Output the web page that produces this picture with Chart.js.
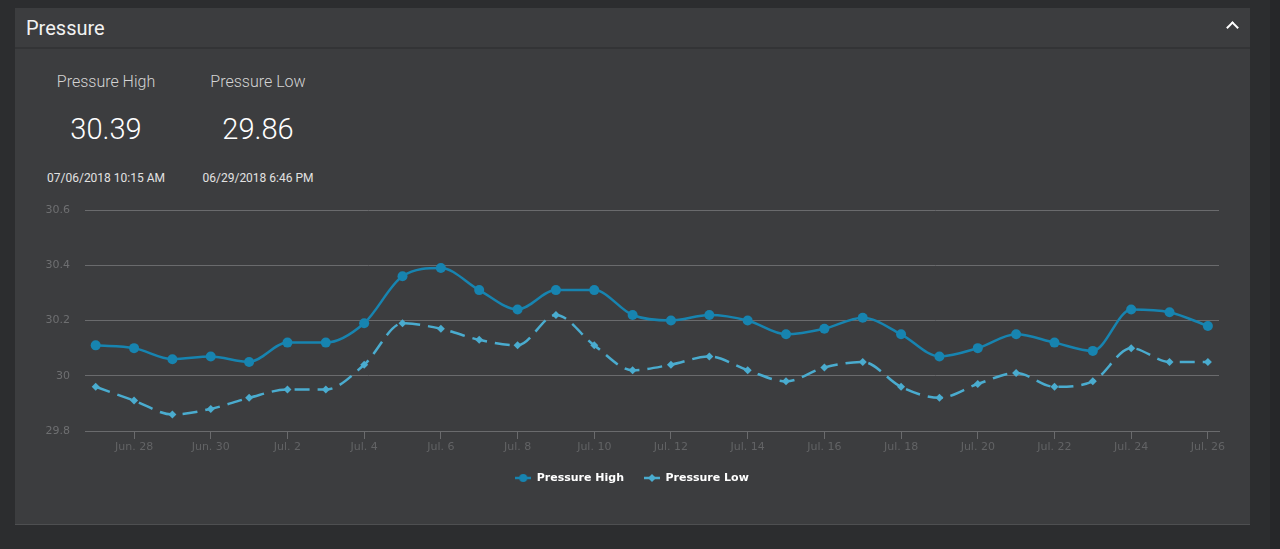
<!DOCTYPE html>
<html>
<head>
<meta charset="utf-8">
<script src="https://cdn.jsdelivr.net/npm/chart.js@4/dist/chart.umd.min.js"></script>
<style>
  html, body { margin: 0; padding: 0; }
  body { width: 1280px; height: 549px; background: #2c2d2f; position: relative; overflow: hidden; font-family: Roboto, "Noto Sans", sans-serif; }
  .strip { position: absolute; left: 1270px; top: 0; width: 10px; height: 549px; background: #262729; }
  .panel { position: absolute; left: 15px; top: 8px; width: 1235px; height: 517px; background: #3c3d3f; border-bottom: 1px solid #4e4f51; box-sizing: border-box; }
  .header { position: absolute; left: 0; top: 0; width: 100%; height: 39px; border-bottom: 2px solid #333436; box-sizing: content-box; }
  .title { position: absolute; left: 11px; top: 8px; font-size: 20px; color: #f2f2f2; font-weight: 400; }
  .chev { position: absolute; left: 1213px; top: 15px; width: 7px; height: 7px; border-left: 2px solid #fff; border-top: 2px solid #fff; transform: rotate(45deg); }
  .stat { position: absolute; text-align: center; width: 160px; }
  .stat .lbl { position: absolute; left: 0; width: 160px; top: 0; font-size: 16px; color: #d4d4d4; font-weight: 300; }
  .stat .val { position: absolute; left: 0; width: 160px; top: 40px; font-size: 29px; color: #ffffff; font-weight: 300; }
  .stat .dt { position: absolute; left: 0; width: 160px; top: 99px; font-size: 12px; color: #e2e2e2; font-weight: 400; }
  #wrap { position: absolute; left: 0; top: 195px; width: 1280px; height: 310px; }
</style>
</head>
<body>
<div class="strip"></div>
<div class="panel">
  <div class="header"><div class="title">Pressure</div><div class="chev"></div></div>
</div>
<div class="stat" style="left:26px; top:72px;"><div class="lbl">Pressure High</div><div class="val">30.39</div><div class="dt">07/06/2018 10:15 AM</div></div>
<div class="stat" style="left:178px; top:72px;"><div class="lbl">Pressure Low</div><div class="val">29.86</div><div class="dt">06/29/2018 6:46 PM</div></div>
<div id="wrap"><canvas id="c" width="1280" height="310"></canvas></div>
<script>
const categories = ["Jun. 27","Jun. 28","Jun. 29","Jun. 30","Jul. 1","Jul. 2","Jul. 3","Jul. 4","Jul. 5","Jul. 6",
  "Jul. 7","Jul. 8","Jul. 9","Jul. 10","Jul. 11","Jul. 12","Jul. 13","Jul. 14","Jul. 15","Jul. 16",
  "Jul. 17","Jul. 18","Jul. 19","Jul. 20","Jul. 21","Jul. 22","Jul. 23","Jul. 24","Jul. 25","Jul. 26"];
const pressureHigh = [30.11,30.10,30.06,30.07,30.05,30.12,30.12,30.19,30.36,30.39,
  30.31,30.24,30.31,30.31,30.22,30.20,30.22,30.20,30.15,30.17,
  30.21,30.15,30.07,30.10,30.15,30.12,30.09,30.24,30.23,30.18];
const pressureLow = [29.96,29.91,29.86,29.88,29.92,29.95,29.95,30.04,30.19,30.17,
  30.13,30.11,30.22,30.11,30.02,30.04,30.07,30.02,29.98,30.03,
  30.05,29.96,29.92,29.97,30.01,29.96,29.98,30.10,30.05,30.05];
const xTickIndices = [1,3,5,7,9,11,13,15,17,19,21,23,25,27,29];
const yTicks = [29.8, 30, 30.2, 30.4, 30.6];

const highColor = '#1784b0';
const lowColor = '#4aaccf';

function marker(color, shape) {
  const cv = document.createElement('canvas');
  cv.width = 16; cv.height = 10;
  const g = cv.getContext('2d');
  g.strokeStyle = color; g.lineWidth = 2.5;
  g.beginPath(); g.moveTo(0, 5); g.lineTo(16, 5); g.stroke();
  g.fillStyle = color;
  g.beginPath();
  if (shape === 'circle') { g.arc(8, 5, 4, 0, Math.PI * 2); }
  else { g.moveTo(8, 1); g.lineTo(12, 5); g.lineTo(8, 9); g.lineTo(4, 5); g.closePath(); }
  g.fill();
  return cv;
}
const markers = [marker(highColor, 'circle'), marker(lowColor, 'diamond')];

const toPts = arr => arr.map((v, i) => ({ x: i, y: v }));

new Chart(document.getElementById('c'), {
  type: 'line',
  data: {
    datasets: [
      { label: 'Pressure High', data: toPts(pressureHigh), borderColor: highColor, backgroundColor: highColor,
        borderWidth: 2.5, pointRadius: 5, pointHoverRadius: 5, pointStyle: 'circle', pointBorderWidth: 0,
        cubicInterpolationMode: 'monotone', fill: false },
      { label: 'Pressure Low', data: toPts(pressureLow), borderColor: lowColor, backgroundColor: lowColor,
        borderWidth: 2.5, borderDash: [15, 8], pointRadius: 4, pointHoverRadius: 4, pointStyle: 'rectRot', pointBorderWidth: 0,
        cubicInterpolationMode: 'monotone', fill: false }
    ]
  },
  options: {
    responsive: false,
    animation: false,
    layout: { padding: { top: 15, left: 45, right: 61, bottom: 11.5 } },
    plugins: {
      tooltip: { enabled: false },
      legend: {
        position: 'bottom',
        labels: {
          color: '#ffffff',
          font: { family: '"DejaVu Sans", sans-serif', size: 11, weight: 'bold' },
          usePointStyle: true,
          pointStyleWidth: 16,
          padding: 20,
          generateLabels(chart) {
            const items = Chart.defaults.plugins.legend.labels.generateLabels(chart);
            items.forEach((it, i) => { it.pointStyle = markers[i]; });
            return items;
          }
        }
      }
    },
    scales: {
      x: {
        type: 'linear',
        min: -0.279,
        max: 29.29,
        afterBuildTicks(scale) { scale.ticks = xTickIndices.map(v => ({ value: v })); },
        afterFit(scale) { scale.height = 21.5; },
        ticks: {
          color: '#626365',
          font: { family: '"DejaVu Sans", sans-serif', size: 11 },
          padding: 2,
          maxRotation: 0,
          autoSkip: false,
          callback: v => categories[v]
        },
        grid: { drawOnChartArea: false, drawTicks: true, tickLength: 8, color: '#6a6b6d' },
        border: { display: true, color: '#6a6b6d', width: 1 }
      },
      y: {
        min: 29.8,
        max: 30.6,
        afterBuildTicks(scale) { scale.ticks = yTicks.map(v => ({ value: v })); },
        afterFit(scale) { scale.width = 40; scale.paddingTop = 0; scale.paddingBottom = 0; },
        ticks: {
          color: '#6e6f71',
          font: { family: '"DejaVu Sans", sans-serif', size: 11 },
          padding: 15,
          callback: v => String(Number(v.toFixed(1)))
        },
        grid: { color: '#6a6b6d', drawTicks: false, lineWidth: 1 },
        border: { display: false }
      }
    }
  }
});
</script>
</body>
</html>
